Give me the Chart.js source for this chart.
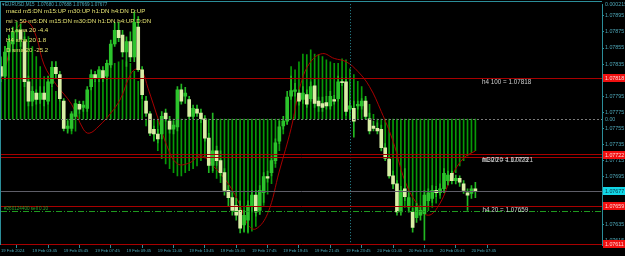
<!DOCTYPE html>
<html>
<head>
<meta charset="utf-8">
<script src="https://cdn.jsdelivr.net/npm/chart.js@4.4.1/dist/chart.umd.min.js"></script>
<style>
  html, body { margin: 0; padding: 0; background: #000; }
  #wrap { width: 625px; height: 256px; }
</style>
</head>
<body>
<div id="wrap"><canvas id="myChart" width="625" height="256"></canvas></div>
<script>
// Global font settings:
Chart.defaults.font.family = 'Liberation Sans';

// Constants
const COLORS = {
    AXIS: '#2b8d99',
    AXIS_TEXT: '#4ea7b8',
    BULL: '#2cc42c',
    BEAR: '#d9efa6',
    WICK: '#22b822',
    HIST: '#079a07',
    RED: '#a80000',
    CURVE: '#a80000',
    NOTE: '#d0d0d0',
    INFO: '#e2e070'
};

// --- data (EURUSD M15, bar 0 = 19 Feb 01:45) ---
const opens = [
    1.07832, 1.07820, 1.07850, 1.07860, 1.07875, 1.07877, 1.07863, 1.07813, 1.07789, 1.07799,
    1.07791, 1.07799, 1.07789, 1.07811, 1.07831, 1.07822, 1.07789, 1.07755, 1.07755, 1.07770,
    1.07785, 1.07781, 1.07780, 1.07807, 1.07822, 1.07817, 1.07827, 1.07820, 1.07834, 1.07860,
    1.07877, 1.07871, 1.07850, 1.07863, 1.07844, 1.07881, 1.07828, 1.07789, 1.07773, 1.07754,
    1.07748, 1.07748, 1.07774, 1.07764, 1.07754, 1.07757, 1.07803, 1.07795, 1.07791, 1.07770,
    1.07779, 1.07774, 1.07767, 1.07743, 1.07709, 1.07727, 1.07715, 1.07700, 1.07678, 1.07669,
    1.07659, 1.07653, 1.07635, 1.07641, 1.07659, 1.07672, 1.07653, 1.07675, 1.07695, 1.07700,
    1.07715, 1.07739, 1.07758, 1.07764, 1.07795, 1.07801, 1.07799, 1.07791, 1.07797, 1.07792,
    1.07808, 1.07789, 1.07786, 1.07787, 1.07783, 1.07791, 1.07792, 1.07813, 1.07813, 1.07779,
    1.07780, 1.07783, 1.07783, 1.07789, 1.07767, 1.07758, 1.07755, 1.07754, 1.07731, 1.07717,
    1.07696, 1.07686, 1.07651, 1.07680, 1.07657, 1.07651, 1.07644, 1.07647, 1.07649, 1.07665,
    1.07668, 1.07678, 1.07675, 1.07680, 1.07690, 1.07699, 1.07690, 1.07693, 1.07686, 1.07675,
    1.07674, 1.07680
];
const highs = [
    1.07844, 1.07857, 1.07871, 1.07881, 1.07887, 1.07885, 1.07869, 1.07820, 1.07807, 1.07803,
    1.07807, 1.07807, 1.07820, 1.07838, 1.07838, 1.07826, 1.07792, 1.07764, 1.07776, 1.07791,
    1.07789, 1.07789, 1.07807, 1.07828, 1.07826, 1.07832, 1.07832, 1.07840, 1.07865, 1.07887,
    1.07887, 1.07877, 1.07869, 1.07875, 1.07900, 1.07894, 1.07832, 1.07795, 1.07776, 1.07758,
    1.07754, 1.07776, 1.07779, 1.07770, 1.07764, 1.07807, 1.07810, 1.07806, 1.07795, 1.07784,
    1.07784, 1.07779, 1.07771, 1.07749, 1.07774, 1.07733, 1.07727, 1.07705, 1.07684, 1.07675,
    1.07668, 1.07665, 1.07653, 1.07665, 1.07678, 1.07678, 1.07684, 1.07700, 1.07702, 1.07721,
    1.07742, 1.07764, 1.07770, 1.07801, 1.07820, 1.07811, 1.07803, 1.07807, 1.07803, 1.07813,
    1.07816, 1.07794, 1.07794, 1.07795, 1.07801, 1.07796, 1.07820, 1.07818, 1.07818, 1.07789,
    1.07789, 1.07789, 1.07792, 1.07795, 1.07774, 1.07764, 1.07762, 1.07759, 1.07736, 1.07721,
    1.07702, 1.07690, 1.07683, 1.07705, 1.07675, 1.07656, 1.07662, 1.07659, 1.07678, 1.07680,
    1.07684, 1.07683, 1.07686, 1.07705, 1.07702, 1.07702, 1.07697, 1.07696, 1.07690, 1.07680,
    1.07684, 1.07688
];
const lows = [
    1.07813, 1.07816, 1.07840, 1.07850, 1.07863, 1.07857, 1.07807, 1.07783, 1.07783, 1.07785,
    1.07786, 1.07783, 1.07785, 1.07807, 1.07818, 1.07789, 1.07752, 1.07749, 1.07752, 1.07767,
    1.07774, 1.07776, 1.07776, 1.07803, 1.07813, 1.07813, 1.07813, 1.07816, 1.07831, 1.07857,
    1.07863, 1.07844, 1.07832, 1.07838, 1.07838, 1.07826, 1.07792, 1.07770, 1.07746, 1.07739,
    1.07737, 1.07742, 1.07764, 1.07749, 1.07748, 1.07752, 1.07785, 1.07786, 1.07767, 1.07767,
    1.07770, 1.07762, 1.07739, 1.07700, 1.07702, 1.07709, 1.07696, 1.07672, 1.07659, 1.07647,
    1.07641, 1.07625, 1.07626, 1.07626, 1.07651, 1.07646, 1.07648, 1.07663, 1.07688, 1.07696,
    1.07711, 1.07736, 1.07754, 1.07760, 1.07791, 1.07795, 1.07784, 1.07786, 1.07781, 1.07789,
    1.07781, 1.07776, 1.07776, 1.07779, 1.07779, 1.07785, 1.07789, 1.07808, 1.07771, 1.07767,
    1.07744, 1.07779, 1.07779, 1.07767, 1.07748, 1.07752, 1.07748, 1.07727, 1.07715, 1.07693,
    1.07680, 1.07647, 1.07647, 1.07665, 1.07651, 1.07626, 1.07638, 1.07641, 1.07616, 1.07659,
    1.07663, 1.07670, 1.07672, 1.07675, 1.07685, 1.07686, 1.07686, 1.07683, 1.07674, 1.07653,
    1.07668, 1.07669
];
const closes = [
    1.07820, 1.07850, 1.07863, 1.07875, 1.07877, 1.07866, 1.07813, 1.07789, 1.07801, 1.07791,
    1.07799, 1.07791, 1.07813, 1.07831, 1.07823, 1.07792, 1.07755, 1.07758, 1.07773, 1.07786,
    1.07779, 1.07784, 1.07803, 1.07822, 1.07817, 1.07828, 1.07817, 1.07836, 1.07860, 1.07877,
    1.07868, 1.07850, 1.07863, 1.07844, 1.07887, 1.07828, 1.07797, 1.07774, 1.07749, 1.07748,
    1.07742, 1.07770, 1.07767, 1.07754, 1.07759, 1.07803, 1.07789, 1.07799, 1.07770, 1.07780,
    1.07774, 1.07767, 1.07743, 1.07709, 1.07727, 1.07715, 1.07700, 1.07678, 1.07669, 1.07653,
    1.07647, 1.07631, 1.07647, 1.07659, 1.07672, 1.07651, 1.07678, 1.07695, 1.07693, 1.07715,
    1.07737, 1.07757, 1.07764, 1.07794, 1.07802, 1.07803, 1.07789, 1.07799, 1.07785, 1.07807,
    1.07786, 1.07783, 1.07781, 1.07783, 1.07795, 1.07789, 1.07813, 1.07812, 1.07776, 1.07783,
    1.07764, 1.07785, 1.07789, 1.07770, 1.07752, 1.07755, 1.07752, 1.07731, 1.07718, 1.07696,
    1.07686, 1.07651, 1.07678, 1.07670, 1.07669, 1.07632, 1.07657, 1.07653, 1.07672, 1.07675,
    1.07678, 1.07675, 1.07680, 1.07699, 1.07697, 1.07690, 1.07693, 1.07688, 1.07678, 1.07672,
    1.07680, 1.07677
];
// histogram indicator drawn in the main window (own scale, 0.00 line)
const histValues = [
    0.000115, 0.000138, 0.000157, 0.000166, 0.000170, 0.000172, 0.000166, 0.000157, 0.000138, 0.000119,
    0.000100, 0.000081, 0.000072, 0.000062, 0.000053, 0.000034, -0.000013, -0.000023, -0.000028, -0.000023,
    0.000011, 0.000034, 0.000049, 0.000062, 0.000072, 0.000081, 0.000087, 0.000094, 0.000100, 0.000106,
    0.000109, 0.000113, 0.000109, 0.000106, 0.000091, 0.000072, 0.000043, -0.000013, -0.000026, -0.000041,
    -0.000060, -0.000075, -0.000085, -0.000094, -0.000102, -0.000108, -0.000108, -0.000102, -0.000098, -0.000094,
    -0.000089, -0.000079, -0.000074, -0.000089, -0.000102, -0.000113, -0.000121, -0.000130, -0.000147, -0.000162,
    -0.000181, -0.000198, -0.000213, -0.000217, -0.000213, -0.000204, -0.000181, -0.000164, -0.000143, -0.000123,
    -0.000092, -0.000060, -0.000028, -0.000009, 0.000100, 0.000094, 0.000109, 0.000124, 0.000123, 0.000132,
    0.000124, 0.000123, 0.000119, 0.000113, 0.000109, 0.000106, 0.000106, 0.000115, 0.000113, 0.000096,
    0.000085, 0.000072, 0.000062, 0.000040, 0.000028, 0.000009, -0.000013, -0.000041, -0.000070, -0.000089,
    -0.000113, -0.000136, -0.000155, -0.000168, -0.000177, -0.000183, -0.000185, -0.000183, -0.000179, -0.000174,
    -0.000168, -0.000160, -0.000151, -0.000140, -0.000126, -0.000113, -0.000102, -0.000089, -0.000079, -0.000070,
    -0.000064, -0.000060
];
// smooth red curve, read at these bar positions
const curveBars = [0, 1.5, 3, 5, 7, 9, 11, 14, 18, 21, 22.5, 25, 28, 30.5, 33, 34.5, 36, 37.5, 40, 42.5,
    45, 48, 51, 54, 58, 61, 63, 65, 68, 71, 74, 76.5, 79, 82, 85, 88, 91, 94, 97, 100,
    103, 106, 109, 112, 115, 118, 121];
const curveValues = [1.07817, 1.07838, 1.07869, 1.07885, 1.07887, 1.07869, 1.07834, 1.07810, 1.07785, 1.07754,
    1.07749, 1.07758, 1.07774, 1.07792, 1.07822, 1.07829, 1.07826, 1.07805, 1.07768, 1.07731,
    1.07711, 1.07712, 1.07721, 1.07709, 1.07686, 1.07659, 1.07635, 1.07630, 1.07649, 1.07702,
    1.07755, 1.07811, 1.07838, 1.07848, 1.07842, 1.07838, 1.07826, 1.07807, 1.07776, 1.07739,
    1.07690, 1.07662, 1.07647, 1.07662, 1.07696, 1.07718, 1.07727];

// time axis
const timeTickBars = [0, 8, 16, 24, 32, 40, 48, 56, 64, 72, 80, 88, 96, 104, 112, 120];
const timeTickLabels = ['19 Feb 2024', '19 Feb 03:45', '19 Feb 05:45', '19 Feb 07:45', '19 Feb 09:45',
    '19 Feb 11:45', '19 Feb 13:45', '19 Feb 15:45', '19 Feb 17:45', '19 Feb 19:45', '19 Feb 21:45',
    '19 Feb 23:45', '20 Feb 01:45', '20 Feb 03:45', '20 Feb 05:45', '20 Feb 07:45'];
const daySeparatorBar = 89;
const priceTicks = [1.07615, 1.07635, 1.07655, 1.07675, 1.07695, 1.07715, 1.07735, 1.07755,
    1.07775, 1.07795, 1.07815, 1.07835, 1.07855, 1.07875, 1.07895];

// levels on the chart
const h4Ma100 = 1.07818;
const maPair = [1.07723, 1.07720];
const h4Ma20 = 1.07659;
const bidPrice = 1.07677;
const orderPrice = 1.07652;
const lowLevel = 1.07611;
const infoLines = [
    'macd m5:DN m15:UP m30:UP h1:DN h4:DN D:UP',
    'rsi > 50 m5:DN m15:DN m30:DN h1:DN h4:UP D:DN',
    'H1 sma 20 -4.4',
    'H4 sma 20 1.8',
    'D sma 20 -25.2'
];

const bars = opens.map((o, i) => i);
const isBull = opens.map((o, i) => closes[i] >= o);

function tag(ctx, area, yPx, text, bg, fg) {
    ctx.fillStyle = bg;
    ctx.fillRect(area.right + 1, Math.round(yPx) - 4, 22, 8);
    ctx.fillStyle = fg;
    ctx.font = '5.3px "Liberation Sans"';
    ctx.textAlign = 'left';
    ctx.textBaseline = 'middle';
    ctx.fillText(text, area.right + 3, yPx + 0.5);
}

function hLine(ctx, area, yPx, color, dash) {
    ctx.save();
    ctx.strokeStyle = color;
    ctx.lineWidth = 1;
    ctx.setLineDash(dash || []);
    ctx.beginPath();
    ctx.moveTo(area.left, Math.round(yPx) + 0.5);
    ctx.lineTo(area.right, Math.round(yPx) + 0.5);
    ctx.stroke();
    ctx.restore();
}

const overlay = {
    id: 'overlay',
    afterDatasetsDraw(chart) {
        const { ctx, chartArea: area, scales: { x, y, yHist } } = chart;
        ctx.save();
        // day separator
        const sx = Math.round(x.getPixelForValue(daySeparatorBar)) + 0.5;
        ctx.strokeStyle = COLORS.AXIS;
        ctx.setLineDash([1, 2]);
        ctx.beginPath();
        ctx.moveTo(sx, area.top);
        ctx.lineTo(sx, area.bottom);
        ctx.stroke();
        ctx.setLineDash([]);

        // zero line of the histogram
        hLine(ctx, area, yHist.getPixelForValue(0), '#7a7a7a', [2, 2]);
        // level lines
        hLine(ctx, area, y.getPixelForValue(h4Ma100), COLORS.RED);
        maPair.forEach(v => hLine(ctx, area, y.getPixelForValue(v), COLORS.RED));
        hLine(ctx, area, y.getPixelForValue(bidPrice), '#5e5e68');
        hLine(ctx, area, y.getPixelForValue(h4Ma20), COLORS.RED);
        hLine(ctx, area, y.getPixelForValue(orderPrice), '#1f9a1f', [6, 2, 1, 2]);
        hLine(ctx, area, y.getPixelForValue(lowLevel), COLORS.RED);

        // frame
        ctx.strokeStyle = COLORS.AXIS;
        ctx.beginPath();
        ctx.moveTo(0, 1.5);
        ctx.lineTo(area.right, 1.5);
        ctx.moveTo(0.5, 1);
        ctx.lineTo(0.5, area.bottom);
        ctx.stroke();

        // notes next to the levels
        const noteX = x.getPixelForValue(122.7);
        ctx.font = '6.3px "Liberation Sans"';
        ctx.textAlign = 'left';
        ctx.textBaseline = 'top';
        ctx.fillStyle = COLORS.NOTE;
        ctx.fillText('h4 100 = 1.07818', noteX, y.getPixelForValue(h4Ma100) + 1.5);
        ctx.fillText('h1 20 = 1.07723', noteX + 0.5, y.getPixelForValue(maPair[1]) + 1);
        ctx.fillText('m30 20 = 1.07721', noteX, y.getPixelForValue(maPair[1]) + 1);
        ctx.fillText('h4 20 = 1.07659', noteX + 0.5, y.getPixelForValue(h4Ma20) + 2);
        ctx.font = '4.6px "Liberation Sans"';
        ctx.fillStyle = '#2aa52a';
        ctx.textBaseline = 'bottom';
        ctx.fillText('#260124400 sell 0.10', 4, y.getPixelForValue(orderPrice) - 0.5);

        // top-left texts
        ctx.font = '4.6px "Liberation Sans"';
        ctx.fillStyle = COLORS.AXIS_TEXT;
        ctx.textBaseline = 'middle';
        ctx.fillText('\u25BEEURUSD,M15  1.07680 1.07688 1.07669 1.07677', 2, 5);
        ctx.font = '6.2px "Liberation Sans"';
        ctx.fillStyle = COLORS.INFO;
        infoLines.forEach((t, k) => ctx.fillText(t, 6, 11 + k * 9.8));

        // axis tags
        ctx.font = '5.3px "Liberation Sans"';
        ctx.fillStyle = COLORS.AXIS_TEXT;
        ctx.fillText('0.000215', area.right + 3, 4.5);
        ctx.fillStyle = '#000';
        ctx.fillRect(area.right + 1, yHist.getPixelForValue(0) - 3, 22, 6);
        ctx.fillStyle = COLORS.AXIS_TEXT;
        ctx.fillText('0.00', area.right + 3, yHist.getPixelForValue(0) + 0.5);
        tag(ctx, area, y.getPixelForValue(h4Ma100), '1.07818', '#f01010', '#ffd8d8');
        tag(ctx, area, y.getPixelForValue(maPair[0]) + 1, '1.07722', '#f01010', '#ffd8d8');
        tag(ctx, area, y.getPixelForValue(bidPrice), bidPrice.toFixed(5), '#12d6e6', '#063040');
        tag(ctx, area, y.getPixelForValue(h4Ma20), '1.07659', '#f01010', '#ffd8d8');
        tag(ctx, area, y.getPixelForValue(lowLevel), '1.07611', '#f01010', '#ffd8d8');
        ctx.restore();
    }
};

new Chart(document.getElementById('myChart'), {
    type: 'bar',
    data: {
        datasets: [{
            label: 'bodies',
            data: bars.map(i => ({ x: i, y: [opens[i], closes[i]] })),
            backgroundColor: isBull.map(b => b ? COLORS.BULL : COLORS.BEAR),
            barThickness: 3,
            minBarLength: 1,
            grouped: false,
            order: 1
        }, {
            label: 'wicks',
            data: bars.map(i => ({ x: i, y: [lows[i], highs[i]] })),
            backgroundColor: COLORS.WICK,
            barThickness: 1,
            grouped: false,
            order: 2
        }, {
            type: 'line',
            label: 'curve',
            data: curveBars.map((b, k) => ({ x: b, y: curveValues[k] })),
            borderColor: COLORS.CURVE,
            borderWidth: 1,
            pointRadius: 0,
            tension: 0.4,
            order: 3
        }, {
            label: 'histogram',
            data: bars.map(i => ({ x: i, y: histValues[i] })),
            yAxisID: 'yHist',
            backgroundColor: COLORS.HIST,
            barThickness: 1,
            grouped: false,
            order: 4
        }]
    },
    options: {
        responsive: false,
        animation: false,
        devicePixelRatio: 1,
        layout: { padding: { left: 1, top: 2, right: 0, bottom: 0 } },
        plugins: { legend: { display: false }, tooltip: { enabled: false } },
        scales: {
            x: {
                type: 'linear',
                min: 0,
                max: 153.3,
                offset: false,
                afterBuildTicks: (scale) => { scale.ticks = timeTickBars.map(v => ({ value: v })); },
                afterFit: (scale) => { scale.height = 11; },
                ticks: {
                    autoSkip: false,
                    maxRotation: 0,
                    align: 'start',
                    padding: 0,
                    color: COLORS.AXIS_TEXT,
                    font: { size: 4.2 },
                    callback: (v) => timeTickLabels[timeTickBars.indexOf(v)]
                },
                grid: { drawOnChartArea: false, tickLength: 3, color: COLORS.AXIS },
                border: { display: false }
            },
            y: {
                position: 'right',
                min: 1.07610,
                max: 1.079095,
                afterBuildTicks: (scale) => { scale.ticks = priceTicks.map(v => ({ value: v })); },
                afterFit: (scale) => { scale.width = 23; },
                ticks: {
                    padding: 1,
                    color: COLORS.AXIS_TEXT,
                    font: { size: 5.3 },
                    callback: (v) => v.toFixed(5)
                },
                grid: { drawOnChartArea: false, tickLength: 2, color: COLORS.AXIS },
                border: { color: COLORS.AXIS, width: 1 }
            },
            yHist: {
                display: false,
                min: -0.0002395,
                max: 0.0002188
            }
        }
    },
    plugins: [overlay]
});
</script>
</body>
</html>
